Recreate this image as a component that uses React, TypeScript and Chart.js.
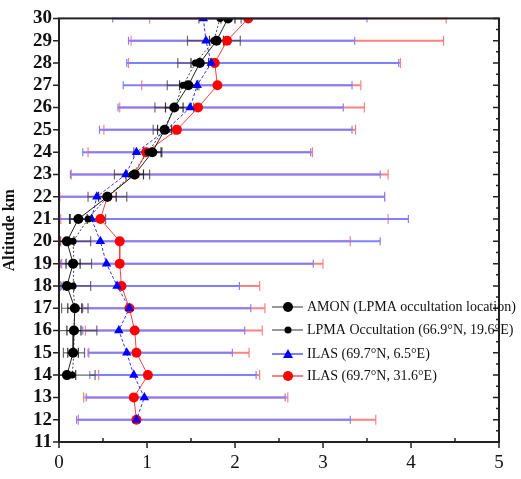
import React, { useEffect, useRef } from "react";
import { Chart, registerables } from "chart.js";
Chart.register(...registerables);

const ilasAlt = [30, 29, 28, 27, 26, 25, 24, 23, 22, 21, 20, 19, 18, 17, 16, 15, 14, 13, 12];
const redVals = [2.15, 1.91, 1.77, 1.8, 1.58, 1.34, 0.99, 0.86, 0.55, 0.47, 0.69, 0.69, 0.71, 0.8, 0.86, 0.88, 1.01, 0.85, 0.88];
const redLow = [1.03, 0.82, 0.79, 0.94, 0.69, 0.51, 0.33, 0.14, 0.01, 0.02, 0.02, 0.03, 0.05, 0.26, 0.3, 0.34, 0.45, 0.28, 0.22];
const redHigh = [4.4, 4.37, 3.88, 3.43, 3.47, 3.37, 2.88, 3.74, 3.7, 3.74, 3.31, 3.0, 2.28, 2.34, 2.31, 2.16, 2.28, 2.6, 3.6];
const blueVals = [1.64, 1.67, 1.73, 1.57, 1.49, 1.22, 0.88, 0.76, 0.43, 0.37, 0.47, 0.54, 0.66, 0.8, 0.68, 0.77, 0.85, 0.97, 0.88];
const blueLow = [0.61, 0.79, 0.77, 0.73, 0.67, 0.46, 0.27, 0.13, 0.0, 0.0, 0.0, 0.02, 0.03, 0.27, 0.27, 0.33, 0.35, 0.31, 0.2];
const blueHigh = [3.5, 3.36, 3.86, 3.33, 3.23, 3.33, 2.86, 3.65, 3.7, 3.97, 3.65, 2.89, 2.05, 2.18, 2.11, 1.97, 2.24, 2.57, 3.31];

const blackAlt = [30, 29, 28, 27, 26, 25, 24, 23, 22, 21, 20, 19, 18, 17, 16, 15, 14];
const amonVals = [1.92, 1.79, 1.6, 1.47, 1.31, 1.2, 1.06, 0.86, 0.55, 0.22, 0.09, 0.16, 0.09, 0.18, 0.17, 0.16, 0.09];
const amonErr = [0.08, 0.08, 0.1, 0.1, 0.1, 0.08, 0.1, 0.1, 0.1, 0.1, 0.08, 0.08, 0.08, 0.08, 0.08, 0.06, 0.1];
const lpmaVals = [1.83, 1.76, 1.55, 1.41, 1.31, 1.19, 1.01, 0.83, 0.55, 0.33, 0.16, 0.17, 0.16, 0.18, 0.17, 0.17, 0.15];
const lpmaErr = [0.24, 0.3, 0.2, 0.18, 0.22, 0.12, 0.16, 0.2, 0.22, 0.2, 0.2, 0.2, 0.2, 0.15, 0.26, 0.12, 0.26];

const xTicks = [0, 1, 2, 3, 4, 5];
const legendLabels = [
  "AMON (LPMA occultation location)",
  "LPMA Occultation (66.9\u00b0N, 19.6\u00b0E)",
  "ILAS (69.7\u00b0N, 6.5\u00b0E)",
  "ILAS (69.7\u00b0N, 31.6\u00b0E)",
];

const toPts = (xs: number[], ys: number[]) => xs.map((v, i) => ({ x: v, y: ys[i] }));

export default function App() {
  const ref = useRef<HTMLCanvasElement>(null);
  useEffect(() => {
    document.body.style.margin = "0";
    const ctx = ref.current!.getContext("2d")!;

    const errorBars = {
      id: "errorBars",
      beforeDatasetsDraw(chart: any) {
        const c = chart.ctx;
        const xs = chart.scales.x;
        const ys = chart.scales.y;
        const area = chart.chartArea;
        c.save();
        c.beginPath();
        c.rect(area.left, area.top - 1, area.right - area.left, area.bottom - area.top + 2);
        c.clip();
        const bar = (lo: number, hi: number, alt: number, color: string, w: number, cap: number) => {
          const y = ys.getPixelForValue(alt);
          const x1 = xs.getPixelForValue(lo);
          const x2 = xs.getPixelForValue(hi);
          c.strokeStyle = color;
          c.lineWidth = w;
          c.beginPath();
          c.moveTo(x1, y);
          c.lineTo(x2, y);
          c.stroke();
          c.lineWidth = 1.2;
          c.beginPath();
          c.moveTo(x1, y - cap);
          c.lineTo(x1, y + cap);
          c.moveTo(x2, y - cap);
          c.lineTo(x2, y + cap);
          c.stroke();
        };
        ilasAlt.forEach((a, i) => bar(redLow[i], redHigh[i], a, "#ff8080", 2, 5));
        ilasAlt.forEach((a, i) => bar(blueLow[i], blueHigh[i], a, "#8080ff", 2, 4));
        blackAlt.forEach((a, i) => bar(lpmaVals[i] - lpmaErr[i], lpmaVals[i] + lpmaErr[i], a, "rgba(70,70,70,0.8)", 1.2, 5));
        blackAlt.forEach((a, i) => bar(amonVals[i] - amonErr[i], amonVals[i] + amonErr[i], a, "rgba(30,30,30,0.9)", 1.2, 5));
        c.restore();
      },
    };

    const frame = {
      id: "frame",
      afterDraw(chart: any) {
        const c = chart.ctx;
        const a = chart.chartArea;
        const ys = chart.scales.y;
        const xs = chart.scales.x;
        c.save();
        c.strokeStyle = "#222";
        c.lineWidth = 2;
        c.strokeRect(a.left, a.top, a.right - a.left, a.bottom - a.top);
        c.lineWidth = 1.5;
        c.beginPath();
        for (let v = 11; v <= 30; v += 0.5) {
          const y = ys.getPixelForValue(v);
          const len = Number.isInteger(v) ? 6 : 3;
          c.moveTo(a.right, y);
          c.lineTo(a.right - len, y);
          c.moveTo(a.left, y);
          c.lineTo(a.left - (Number.isInteger(v) ? 6 : 0), y);
        }
        for (let v = 0; v <= 5; v += 0.5) {
          const x = xs.getPixelForValue(v);
          c.moveTo(x, a.bottom);
          c.lineTo(x, a.bottom + (Number.isInteger(v) ? 6 : 0));
          c.moveTo(x, a.bottom);
          c.lineTo(x, a.bottom - (Number.isInteger(v) ? 0 : 4));
        }
        c.stroke();

        // legend
        const items = [
          { color: "#000", style: "circle", r: 5 },
          { color: "#000", style: "circle", r: 3.5 },
          { color: "#0000ff", style: "triangle", r: 5 },
          { color: "#ff0000", style: "circle", r: 5 },
        ];
        const rowsY = [307, 330, 354, 376];
        c.font = "14px 'Liberation Serif', serif";
        c.textBaseline = "middle";
        items.forEach((it, i) => {
          const y = rowsY[i];
          c.strokeStyle = it.color === "#000" ? "#333" : it.color;
          c.lineWidth = 1;
          c.beginPath();
          c.moveTo(272, y);
          c.lineTo(303, y);
          c.stroke();
          c.fillStyle = it.color;
          c.beginPath();
          if (it.style === "circle") {
            c.arc(288, y, it.r, 0, Math.PI * 2);
          } else {
            c.moveTo(288, y - it.r);
            c.lineTo(288 + it.r, y + it.r * 0.8);
            c.lineTo(288 - it.r, y + it.r * 0.8);
            c.closePath();
          }
          c.fill();
          c.fillStyle = "#111";
          c.fillText(legendLabels[i], 307, y);
        });
        c.restore();
      },
    };

    const chart = new Chart(ctx, {
      type: "line",
      data: {
        datasets: [
          {
            label: legendLabels[0],
            data: toPts(amonVals, blackAlt),
            borderColor: "#222",
            backgroundColor: "#000",
            borderWidth: 1,
            pointRadius: 5,
            pointStyle: "circle",
            pointBorderWidth: 0,
            order: 1,
          },
          {
            label: legendLabels[1],
            data: toPts(lpmaVals, blackAlt),
            borderColor: "#444",
            backgroundColor: "#000",
            borderWidth: 1,
            borderDash: [2, 2],
            pointRadius: 3.5,
            pointStyle: "circle",
            pointBorderWidth: 0,
            order: 2,
          },
          {
            label: legendLabels[2],
            data: toPts(blueVals, ilasAlt),
            borderColor: "#3030ff",
            backgroundColor: "#0000ff",
            borderWidth: 1,
            borderDash: [3, 2],
            pointRadius: 5.5,
            pointStyle: "triangle",
            pointBorderWidth: 0,
            order: 3,
          },
          {
            label: legendLabels[3],
            data: toPts(redVals, ilasAlt),
            borderColor: "#ff4040",
            backgroundColor: "#ff0000",
            borderWidth: 1,
            pointRadius: 5,
            pointStyle: "circle",
            pointBorderWidth: 0,
            order: 4,
          },
        ],
      },
      options: {
        animation: false,
        responsive: false,
        maintainAspectRatio: false,
        layout: { padding: { top: 17, right: 22, left: 0, bottom: 0 } },
        plugins: { legend: { display: false }, tooltip: { enabled: false } },
        scales: {
          x: {
            type: "linear",
            min: 0,
            max: 5,
            afterBuildTicks: (s: any) => {
              s.ticks = xTicks.map((v) => ({ value: v }));
            },
            afterFit: (s: any) => {
              s.height = 37;
            },
            grid: { display: false, drawTicks: false },
            border: { display: false },
            ticks: {
              color: "#111",
              padding: 10,
              font: { family: "'Liberation Serif', serif", size: 19 },
              maxRotation: 0,
            },
          },
          y: {
            type: "linear",
            min: 11,
            max: 30,
            afterFit: (s: any) => {
              s.width = 59;
            },
            grid: { display: false, drawTicks: false },
            border: { display: false },
            title: {
              display: true,
              text: "Altitude km",
              color: "#111",
              padding: { top: 0, bottom: 0 },
              font: { family: "'Liberation Serif', serif", size: 16, weight: "bold" },
            },
            ticks: {
              stepSize: 1,
              autoSkip: false,
              color: "#111",
              padding: 7,
              font: { family: "'Liberation Serif', serif", size: 19, weight: "bold" },
            },
          },
        },
      },
      plugins: [errorBars, frame],
    });
    return () => chart.destroy();
  }, []);
  return (
    <div style={{ position: "fixed", left: 0, top: 0, width: 521, height: 479, background: "#fff" }}>
      <canvas ref={ref} width={521} height={479} style={{ width: 521, height: 479 }} />
    </div>
  );
}
